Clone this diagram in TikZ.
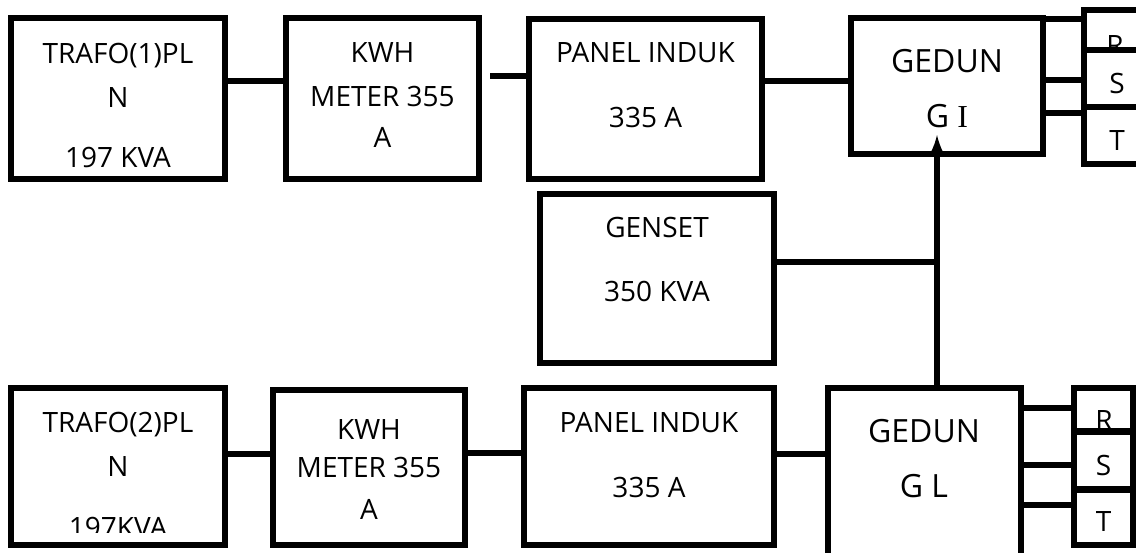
\documentclass[tikz,border=0pt]{standalone}
\usepackage{fontspec}
\setmainfont{Open Sans}
\newfontfamily\romanI{Liberation Serif}
\tikzset{
  unit/.style={draw, line width=6.5pt, fill=white, inner sep=0pt},
  phase/.style={unit, text height=29pt, text depth=0pt, font=\fontsize{28}{34}\selectfont},
  boxtext/.style={align=center, inner sep=0pt, font=\fontsize{28}{44}\selectfont},
  bigtext/.style={align=center, inner sep=0pt, font=\fontsize{32}{55}\selectfont},
  wire/.style={line width=5.5pt}
}

\begin{document}
\begin{tikzpicture}[x=1pt,y=-1pt]
  \useasboundingbox (0,0) rectangle (1136,552);
  \clip (0,0) rectangle (1136,552);
  % upper line: PLN (1) to gedung I
  \node[unit, minimum width=214, minimum height=161] (trafoA) at (118,98.5) {};
  \node[unit, minimum width=193, minimum height=161] (kwhA) at (382.5,98.5) {};
  \node[unit, minimum width=233, minimum height=160] (panelA) at (645.5,99) {};
  \node[unit, minimum width=192, minimum height=136] (gedungA) at (947,86) {};
  \node[boxtext] (trafoAtxt) at (118,105) {TRAFO(1)PL\\N\\[16pt]197 KVA};
  \node[boxtext] (kwhAtxt) at (382.5,95.5) {KWH\\METER 355\\[-3pt]A};
  \node[boxtext] (panelAtxt) at (645.5,85.5) {PANEL INDUK\\[21pt]335 A};
  \node[bigtext] (gedungAtxt) at (947,88.5) {GEDUN\\G {\romanI I}};
  % phases of gedung I
  \node[unit, minimum width=66, minimum height=40] (rA) at (1117,30) {};
  \node[boxtext, anchor=base] (rAtxt) at (1115,55) {R};
  \node[phase, minimum width=66, minimum height=57] (sA) at (1117,78.5) {S};
  \node[phase, minimum width=66, minimum height=57] (tA) at (1117,135.5) {T};

  % genset
  \node[unit, minimum width=234, minimum height=169] (gensetA) at (657,278.5) {};
  \node[boxtext] (gensetAtxt) at (657,259) {GENSET\\[20pt]350 KVA};

  % lower line: PLN (2) to gedung L
  \node[unit, minimum width=214, minimum height=157] (trafoB) at (118,466.5) {};
  \node[unit, minimum width=192, minimum height=155] (kwhB) at (369,467.5) {};
  \node[unit, minimum width=250, minimum height=157] (panelB) at (649,466.5) {};
  \node[unit, minimum width=193, minimum height=232] (gedungL) at (924.5,504) {};
  \node[boxtext] (trafoBtxt) at (118,444.5) {TRAFO(2)PL\\N};
  \begin{scope}
    \clip (0,0) rectangle (1136,532);
    \node[boxtext, anchor=base] (trafoBkva) at (118,537) {197KVA};
  \end{scope}
  \node[boxtext] (kwhBtxt) at (369,469) {KWH\\[-6pt]METER 355\\[-2pt]A};
  \node[boxtext] (panelBtxt) at (649,455.5) {PANEL INDUK\\[21pt]335 A};
  \node[bigtext] (gedungLtxt) at (924,458.5) {GEDUN\\G L};
  % phases of gedung L
  \node[unit, minimum width=59, minimum height=43.5] (rL) at (1103.5,409.75) {};
  \node[boxtext, anchor=base] (rLtxt) at (1104,430) {R};
  \node[phase, minimum width=59, minimum height=58] (sL) at (1103.5,460.5) {S};
  \node[phase, minimum width=59, minimum height=55.5] (tL) at (1103.5,517.25) {T};

  % connectors
  \draw[wire] (trafoA.east |- 0,81) -- (kwhA.west |- 0,81);
  \draw[wire] ([xshift=8pt]kwhA.east |- 0,76) -- (panelA.west |- 0,76);
  \draw[wire] (panelA.east |- 0,81) -- (gedungA.west |- 0,81);
  \foreach \y/\p in {19/rA,80/sA,113/tA}
    \draw[wire] (gedungA.east |- 0,\y) -- (\p.west |- 0,\y);
  \draw[wire] (trafoB.east |- 0,454) -- (kwhB.west |- 0,454);
  \draw[wire] (kwhB.east |- 0,453) -- (panelB.west |- 0,453);
  \draw[wire] (panelB.east |- 0,454) -- (gedungL.west |- 0,454);
  \foreach \y/\p in {408/rL,465/sL,505/tL}
    \draw[wire] (gedungL.east |- 0,\y) -- (\p.west |- 0,\y);
  % genset feeds the bus between the two buildings
  \coordinate (tipA) at (937,135);
  \coordinate (tieG) at (937,262);
  \draw[wire,-latex] (gedungL.north -| tipA) -- (tipA);
  \draw[wire] (gensetA.east |- tieG) -- (tieG);
\end{tikzpicture}
\end{document}
